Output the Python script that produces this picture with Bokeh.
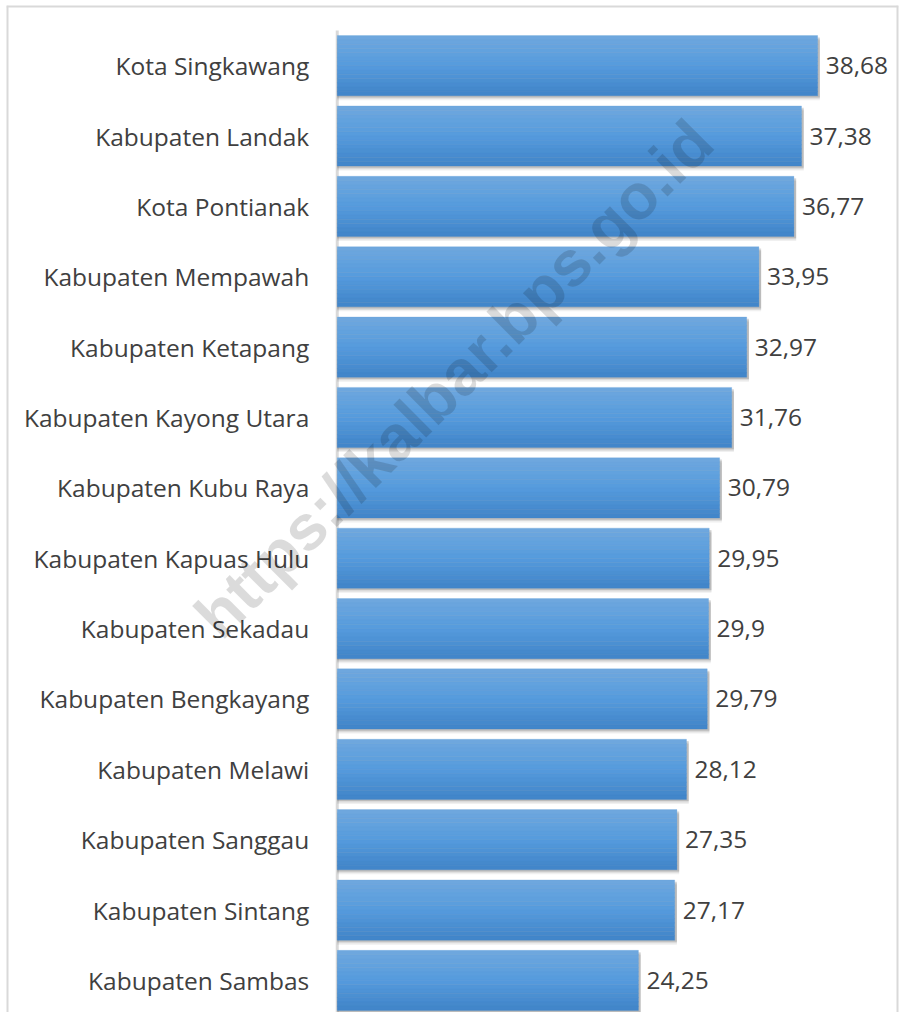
from bokeh.plotting import figure
from bokeh.models import Range1d, Label, ColumnDataSource
from bokeh.core.properties import value
from bokeh.embed import file_html
from bokeh.resources import INLINE

categories = ["Kota Singkawang", "Kabupaten Landak", "Kota Pontianak", "Kabupaten Mempawah",
              "Kabupaten Ketapang", "Kabupaten Kayong Utara", "Kabupaten Kubu Raya",
              "Kabupaten Kapuas Hulu", "Kabupaten Sekadau", "Kabupaten Bengkayang",
              "Kabupaten Melawi", "Kabupaten Sanggau", "Kabupaten Sintang", "Kabupaten Sambas"]
values = [38.68, 37.38, 36.77, 33.95, 32.97, 31.76, 30.79, 29.95, 29.9, 29.79, 28.12, 27.35, 27.17, 24.25]
value_labels = ["38,68", "37,38", "36,77", "33,95", "32,97", "31,76", "30,79", "29,95", "29,9",
                "29,79", "28,12", "27,35", "27,17", "24,25"]
watermark = "https://kalbar.bps.go.id"

FONT = "Open Sans"
FS = "24.5px"
TXT = "#404040"
idx = list(range(len(categories)))

# frame spans (6,5)-(898,1012); x=0 at px 336.7, 12.42 px/unit; rows 70.35 px apart, first at px 65
XS, XE = -26.63, 45.19
YT, YB = -0.855, 13.456

p = figure(width=900, height=1012, output_backend="svg", toolbar_location=None,
           x_range=Range1d(XS, XE), y_range=Range1d(YB, YT),
           x_axis_location=None, y_axis_location=None,
           min_border_left=6, min_border_top=5, min_border_bottom=0, min_border_right=2)
p.outline_line_color = None
p.grid.visible = False
p.background_fill_color = "white"
p.border_fill_color = "white"

# chart border (left, top, right)
p.segment(x0=[XS, XS, XE], y0=[YB, YT, YT], x1=[XS, XE, XE], y1=[YT, YT, YB],
          line_color="#d9d9d9", line_width=4)

# category axis line
p.segment(x0=[0], y0=[-0.5], x1=[0], y1=[YB], line_color="#d9d9d9", line_width=3)

h = 0.853
# shadow
for off, a in [(0.065, 0.08), (0.045, 0.12), (0.025, 0.2)]:
    p.hbar(y=[i + off for i in idx], left=0, right=[v + 0.18 for v in values], height=h,
           fill_color="#404040", fill_alpha=a, line_color=None)

def lerp(c1, c2, t):
    return "#%02x%02x%02x" % tuple(int(round(a + (b - a) * t)) for a, b in zip(c1, c2))

top = (0x70, 0xa8, 0xde)
mid = (0x55, 0x9b, 0xdd)
bot = (0x41, 0x84, 0xc8)
N = 14
for k in range(N):
    t = (k + 0.5) / N
    c = lerp(top, mid, t * 2) if t < 0.5 else lerp(mid, bot, (t - 0.5) * 2)
    yy = [i - h / 2 + (k + 0.5) * h / N for i in idx]
    p.hbar(y=yy, left=0, right=values, height=h / N + 0.002, fill_color=c,
           line_color=c, line_width=0.3)

# value labels
src = ColumnDataSource(dict(y=idx, x=values, t=value_labels, c=categories, z=[0] * len(idx)))
p.text(x="x", y="y", text="t", source=src, x_offset=8, text_align="left",
       text_baseline="middle", text_font=value(FONT), text_font_size=FS, text_color=TXT)

# category labels
p.text(x="z", y="y", text="c", source=src, x_offset=-28, text_align="right",
       text_baseline="middle", text_font=value(FONT), text_font_size=FS, text_color=TXT)

wm = Label(x=9.4, y=4.45, text=watermark, angle=0.785, text_align="center",
           text_baseline="middle", text_font="Liberation Sans", text_font_style="bold",
           text_font_size="64px", text_color="black", text_alpha=0.14)
p.add_layout(wm)

open("out.html", "w").write(file_html(p, INLINE))
